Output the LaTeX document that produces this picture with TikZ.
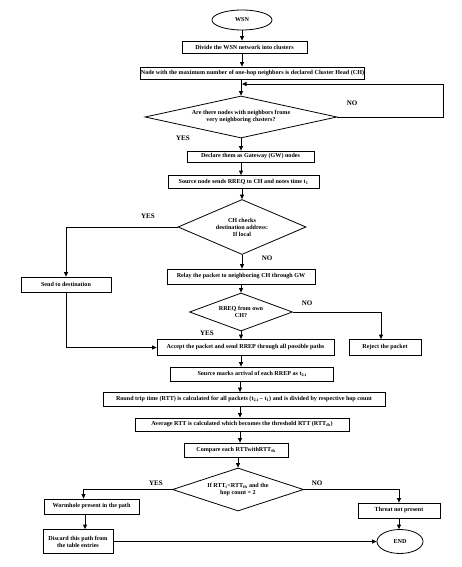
\documentclass[tikz,border=0pt]{standalone}
\usepackage{fontspec}
\setmainfont{Liberation Serif}
\usetikzlibrary{shapes.geometric,arrows.meta}
\begin{document}
\begin{tikzpicture}[x=1pt,y=-1pt,
  txt/.style={font=\bfseries\fontsize{6.1}{7}\selectfont},
  box/.style={txt,draw,line width=0.8pt,rectangle,inner sep=0pt,align=center},
  dia/.style={txt,draw,line width=0.8pt,diamond,inner sep=0pt,align=center},
  oval/.style={txt,draw,line width=0.8pt,ellipse,inner sep=0pt},
  lbl/.style={font=\bfseries\fontsize{7}{8}\selectfont,inner sep=0pt},
  ln/.style={line width=0.8pt},
  arr/.style={line width=0.8pt,-{Triangle[length=4.5pt,width=4pt]}}]
\path[use as bounding box] (0,0) rectangle (461,567);

\node[oval,minimum width=60pt,minimum height=20pt] (wsn) at (242,20) {WSN};
\node[box,minimum width=125pt,minimum height=12pt] (divide) at (244.5,47) {Divide the WSN network into clusters};
\node[box,minimum width=215pt,minimum height=12pt] (ch) at (252.5,73) {Node with the maximum number of one-hop neighbors is declared Cluster Head (CH)};
\node[dia,minimum width=192pt,minimum height=42pt,shape aspect=4.57] (d1) at (241,117) {Are there nodes with neighbors frome\\very neighboring clusters?};
\node[box,minimum width=127pt,minimum height=11pt] (declare) at (250.5,156.5) {Declare them as Gateway (GW) nodes};
\node[box,minimum width=151pt,minimum height=13pt] (source) at (243.5,182) {Source node sends RREQ to CH and notes time t\textsubscript{1}};
\node[dia,minimum width=128pt,minimum height=55pt,shape aspect=2.33] (d2) at (242,227) {CH checks\\destination address:\\If local};
\node[box,minimum width=90pt,minimum height=15pt] (send) at (66,284.5) {Send to destination};
\node[box,minimum width=148pt,minimum height=15pt] (relay) at (241,276.5) {Relay the packet to neighboring CH through GW};
\node[dia,minimum width=103pt,minimum height=38pt,shape aspect=2.7] (d3) at (241,312) {RREQ from own\\CH?};
\node[box,minimum width=177pt,minimum height=16pt] (accept) at (245.5,347.5) {Accept the packet and send RREP through all possible paths};
\node[box,minimum width=72pt,minimum height=16pt] (reject) at (385,347.5) {Reject the packet};
\node[box,minimum width=163pt,minimum height=14pt] (marks) at (252,374) {Source marks arrival of each RREP as t\textsubscript{2,i}};
\node[box,minimum width=282pt,minimum height=14pt] (rtt) at (244,399.5) {Round trip time (RTT) is calculated for all packets (t\textsubscript{2,i} -- t\textsubscript{1}) and is divided by respective hop count};
\node[box,minimum width=214pt,minimum height=13pt] (avg) at (242,424.5) {Average RTT is calculated which becomes the threshold RTT (RTT\textsubscript{th})};
\node[box,minimum width=104pt,minimum height=14pt] (compare) at (236,450) {Compare each RTTwithRTT\textsubscript{th}};
\node[dia,minimum width=131pt,minimum height=43pt,shape aspect=3.05] (d4) at (238,489.5) {If RTT\textsubscript{i}<RTT\textsubscript{th} and the\\hop count = 2};
\node[box,minimum width=95pt,minimum height=15pt] (worm) at (91.5,506.5) {Wormhole present in the path};
\node[box,minimum width=82pt,minimum height=15pt] (threat) at (399,510.5) {Threat not present};
\node[box,minimum width=70pt,minimum height=24pt] (discard) at (78,541.5) {Discard this path from\\the table entries};
\node[oval,minimum width=46pt,minimum height=24pt] (endn) at (400,541.5) {END};

\coordinate (loopR) at (443,84);
\coordinate (join) at (242,84);

\draw[arr] (wsn.south) -- (wsn.south |- divide.north);
\draw[arr] (divide.south -| wsn.south) -- (ch.north -| wsn.south);
\draw[arr] (ch.south -| d1.north) -- (d1.north);
\draw[arr] (d1.east) -| (loopR) -- (join);
\draw[arr] (d1.south) -- (d1.south |- declare.north);
\draw[arr] (declare.south -| d1.south) -- (source.north -| d1.south);
\draw[arr] (source.south -| d2.north) -- (d2.north);
\draw[arr] (d2.west) -| (send.north);
\draw[arr] (d2.south) -- (d2.south |- relay.north);
\draw[arr] (relay.south -| d3.north) -- (d3.north);
\draw[arr] (d3.south) -- (d3.south |- accept.north);
\draw[arr] (d3.east) -| ([xshift=-4pt]reject.north);
\draw[arr] (send.south) |- (accept.west);
\draw[arr] (accept.south -| d3.south) -- (marks.north -| d3.south);
\draw[arr] ([xshift=-1pt]marks.south -| d3.south) -- ([xshift=-1pt]rtt.north -| d3.south);
\draw[arr] ([xshift=-1pt]rtt.south -| d3.south) -- ([xshift=-1pt]avg.north -| d3.south);
\draw[arr] ([xshift=-1pt]avg.south -| d3.south) -- ([xshift=-1pt]compare.north -| d3.south);
\draw[arr] (compare.south -| d4.north) -- (d4.north);
\draw[arr] (d4.west) -| ([xshift=-8pt]worm.north);
\draw[arr] (d4.east) -| (threat.north);
\draw[arr] ([xshift=-6.5pt]worm.south) -- ([xshift=-6.5pt]worm.south |- discard.north);
\draw[arr] (threat.south) -- (threat.south |- endn.north);
\draw[arr] (discard.east) -- (endn.west);

\node[lbl] (no1) at (352,103) {NO};
\node[lbl] (yes1) at (183,138) {YES};
\node[lbl] (yes2) at (148,216) {YES};
\node[lbl] (no2) at (267,258) {NO};
\node[lbl] (no3) at (307,303) {NO};
\node[lbl] (yes3) at (207,333) {YES};
\node[lbl] (yes4) at (156,483) {YES};
\node[lbl] (no4) at (317,483) {NO};
\end{tikzpicture}
\end{document}
